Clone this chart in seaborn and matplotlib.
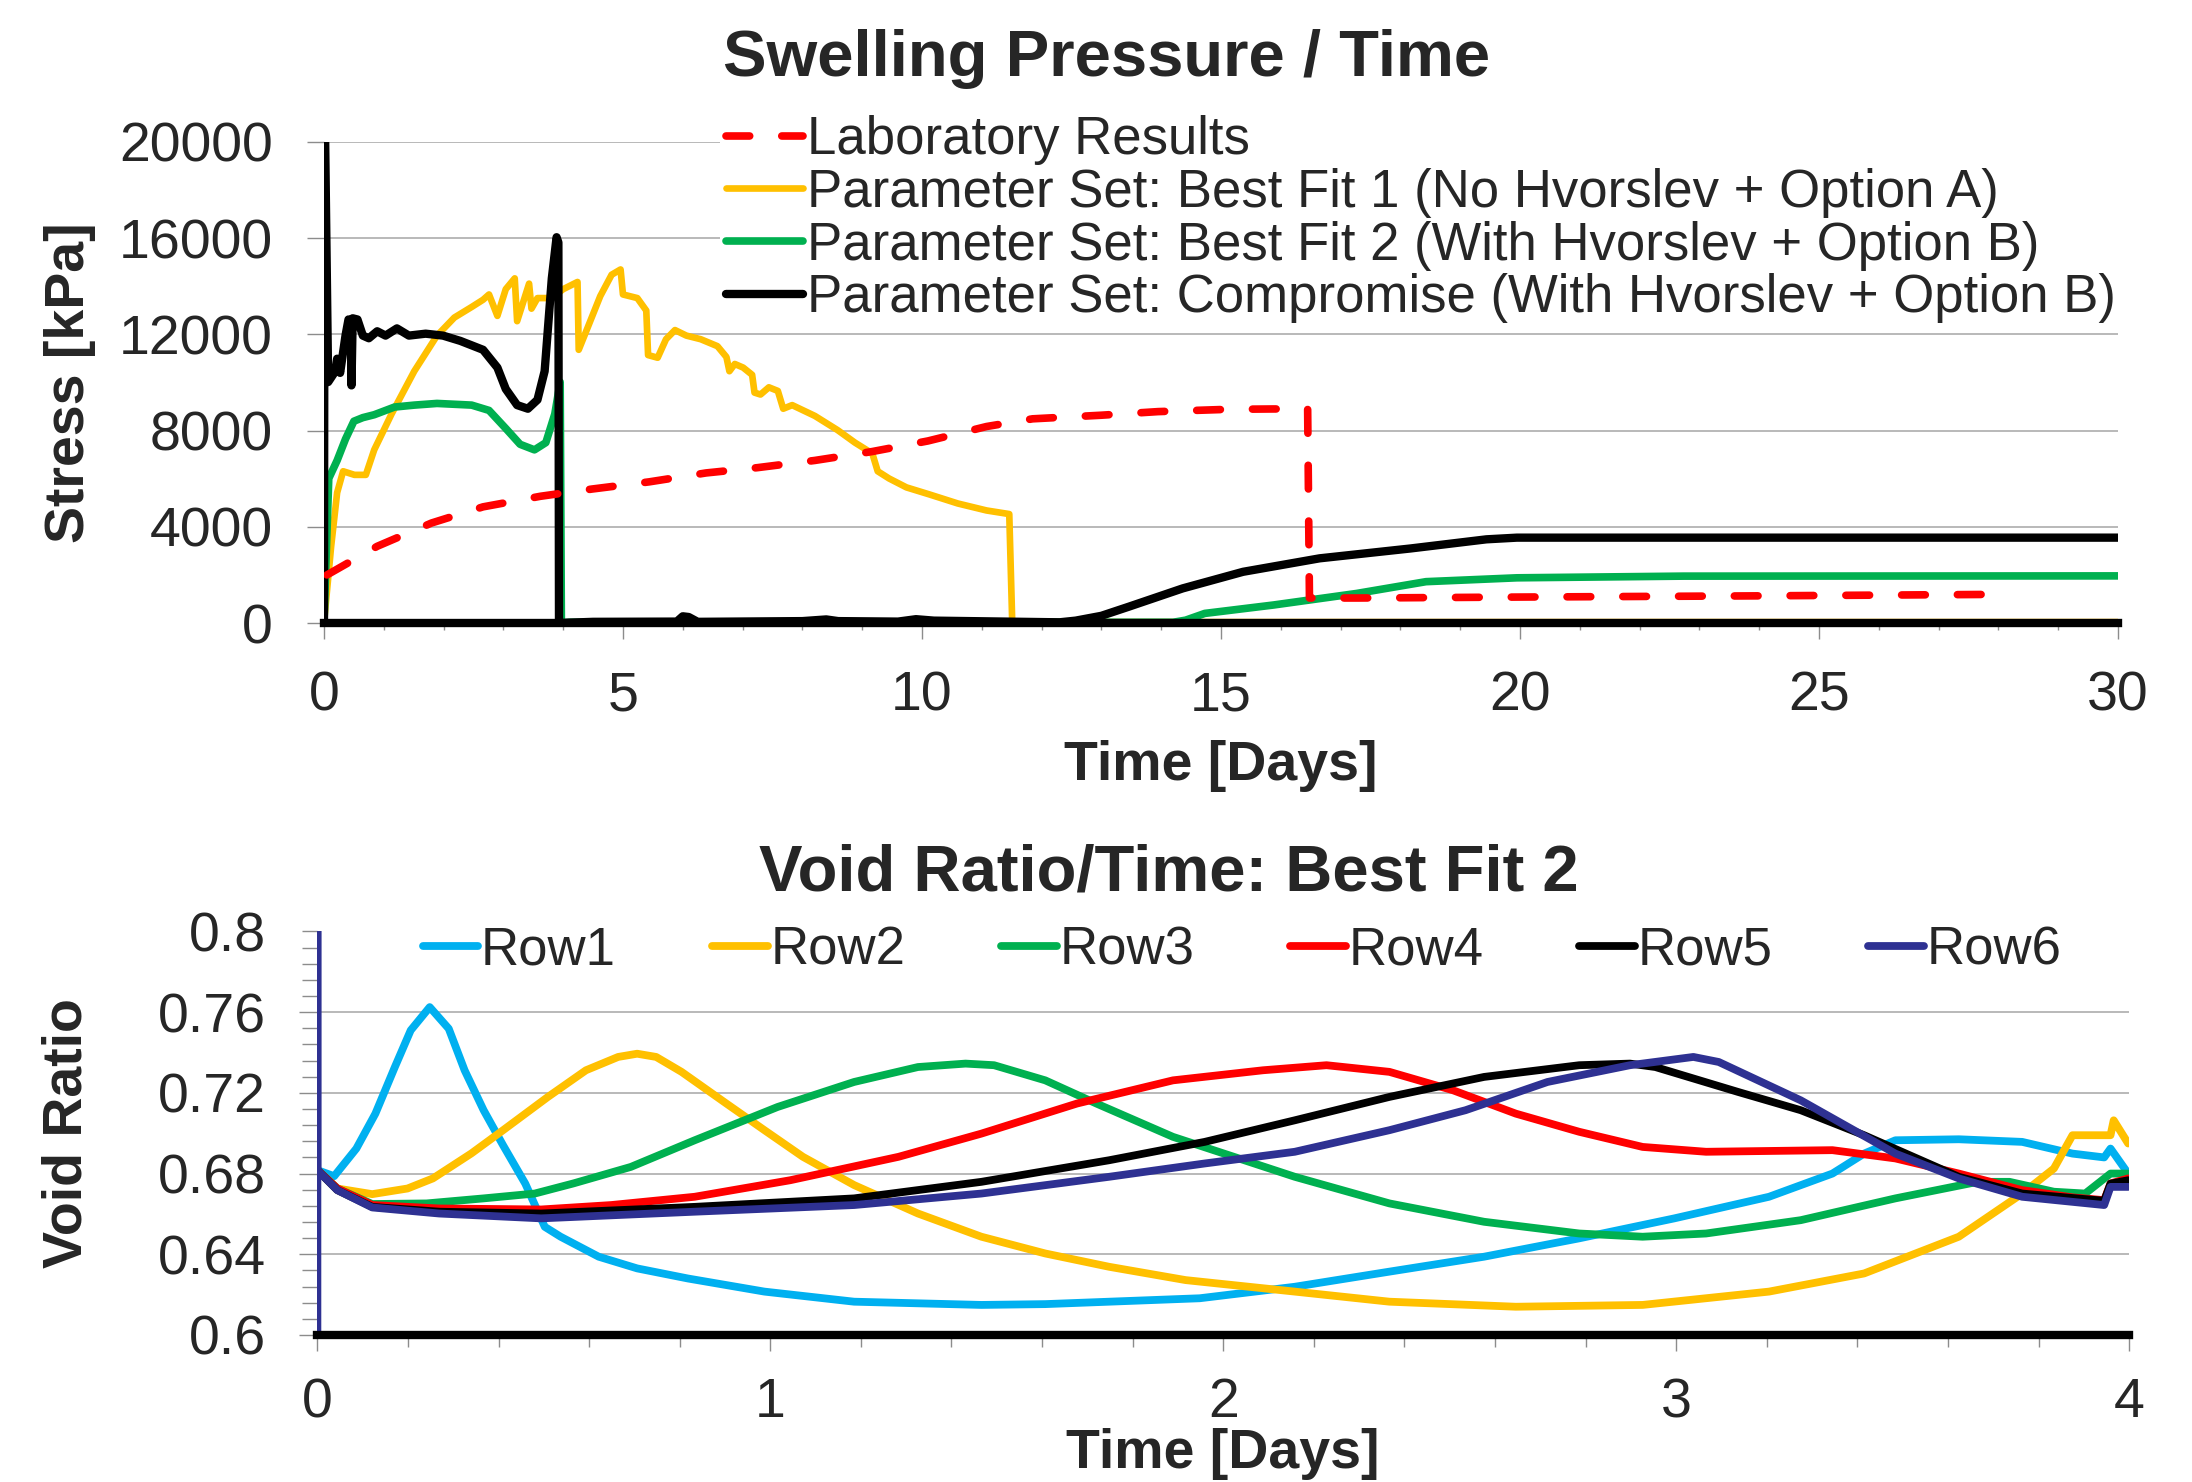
import numpy as np
import matplotlib
matplotlib.use('Agg')
from matplotlib import pyplot as plt
from matplotlib.ticker import MultipleLocator, FixedLocator, FuncFormatter
import seaborn as sns

# ---------------- swelling pressure (time in days, stress in kPa)
lab_t = [0.05, 0.89, 1.8, 2.66, 3.62, 4.48, 5.44, 6.39, 7.25, 8.21, 9.17, 10.1, 11.08,
         11.85, 13.0, 13.95, 15.12, 15.88, 16.45, 16.48, 17.3, 20.0, 24.0, 27.9]
lab_p = [2000, 3190, 4160, 4830, 5270, 5570, 5870, 6240, 6460, 6760, 7130, 7570, 8170,
         8490, 8640, 8790, 8885, 8900, 8900, 1040, 1040, 1080, 1130, 1190]

bf1_t = [0, 0.12, 0.22, 0.32, 0.51, 0.70, 0.84, 1.13, 1.51, 1.89, 2.18, 2.47, 2.66, 2.76,
         2.90, 3.04, 3.19, 3.23, 3.43, 3.47, 3.57, 3.81, 4.0, 4.24, 4.26, 4.38, 4.62, 4.81,
         4.96, 5.0, 5.24, 5.39, 5.42, 5.58, 5.72, 5.87, 6.06, 6.30, 6.58, 6.73, 6.78, 6.87,
         7.01, 7.16, 7.2, 7.3, 7.44, 7.59, 7.68, 7.83, 8.21, 8.59, 8.88, 9.17, 9.26, 9.45,
         9.74, 10.12, 10.6, 11.08, 11.46, 11.51, 11.6, 30]
bf1_p = [0, 3190, 5420, 6310, 6160, 6160, 7200, 8690, 10470, 11950, 12700, 13140, 13440, 13660,
         12770, 13880, 14330, 12550, 14110, 13070, 13510, 13510, 13880, 14180, 11360, 12100, 13590, 14480,
         14700, 13660, 13510, 12990, 11140, 11030, 11800, 12180, 11950, 11800, 11510, 11060, 10470, 10770,
         10620, 10320, 9580, 9500, 9800, 9650, 8910, 9060, 8610, 8020, 7500, 7050, 6310, 6010,
         5640, 5350, 4970, 4680, 4530, 0, 40, 40]

bf2_t = [0, 0.08, 0.22, 0.36, 0.50, 0.65, 0.84, 1.18, 1.51, 1.89, 2.47, 2.76, 3.04, 3.28,
         3.52, 3.71, 3.86, 3.95, 3.97, 4.1, 14.2, 14.41, 14.73, 15.88, 17.27, 18.43, 19.95,
         22.74, 30]
bf2_p = [0, 6010, 6760, 7650, 8390, 8540, 8660, 8980, 9060, 9130, 9060, 8840, 8090, 7430,
         7200, 7500, 8690, 10020, 0, 30, 30, 120, 400, 750, 1230, 1720, 1880,
         1950, 1960]

comp_t = [0, 0.01, 0.07, 0.19, 0.22, 0.27, 0.36, 0.41, 0.45, 0.46, 0.48, 0.56, 0.65, 0.75,
          0.89, 1.03, 1.22, 1.42, 1.70, 1.99, 2.28, 2.66, 2.90, 3.04, 3.23, 3.41, 3.57, 3.69,
          3.81, 3.89, 3.92, 3.93, 4.5, 5.9, 6.0, 6.1, 6.25, 8.0, 8.4, 8.6, 9.6, 9.9, 10.2,
          12.3, 12.57, 13.0, 13.46, 14.36, 15.37, 16.65, 18.17, 19.44, 19.95, 22, 25, 30]
comp_p = [0, 22000, 10020, 10470, 10990, 10400, 11950, 12620, 12600, 9880, 12670, 12620, 11950, 11840,
          12130, 11950, 12250, 11950, 12030, 11950, 11730, 11360, 10620, 9730, 9060, 8910, 9280, 10470,
          14330, 16040, 15820, 0, 50, 60, 280, 250, 50, 80, 150, 80, 60, 160, 100,
          30, 100, 300, 680, 1440, 2130, 2690, 3100, 3480, 3550, 3550, 3550, 3550]

top_labels = ['Laboratory Results',
              'Parameter Set: Best Fit 1 (No Hvorslev + Option A)',
              'Parameter Set: Best Fit 2 (With Hvorslev + Option B)',
              'Parameter Set: Compromise (With Hvorslev + Option B)']

# ---------------- void ratio per row (time in days)
row1_t = [0, 0.037, 0.086, 0.128, 0.171, 0.206, 0.248, 0.29, 0.325, 0.367, 0.41, 0.459, 0.502,
          0.537, 0.621, 0.706, 0.818, 0.987, 1.185, 1.466, 1.607, 1.948, 2.158, 2.367, 2.576,
          2.786, 2.996, 3.205, 3.345, 3.415, 3.484, 3.624, 3.764, 3.875, 3.945, 3.959, 3.998]
row1_v = [0.6817, 0.6787, 0.6924, 0.7097, 0.7328, 0.751, 0.7625, 0.7518, 0.7312, 0.7114, 0.694, 0.675, 0.6536,
          0.6487, 0.6388, 0.633, 0.628, 0.6215, 0.6165, 0.6149, 0.6153, 0.6182, 0.6239, 0.6314, 0.6388,
          0.6479, 0.6578, 0.6685, 0.680, 0.6899, 0.6965, 0.697, 0.6957, 0.6899, 0.688, 0.6924, 0.680]

row2_t = [0, 0.044, 0.121, 0.199, 0.255, 0.34, 0.41, 0.509, 0.593, 0.664, 0.706, 0.748, 0.804,
          0.903, 0.987, 1.072, 1.185, 1.326, 1.466, 1.607, 1.748, 1.917, 2.158, 2.367, 2.646,
          2.926, 3.205, 3.415, 3.624, 3.764, 3.834, 3.875, 3.959, 3.966, 3.998]
row2_v = [0.6817, 0.6726, 0.6698, 0.6726, 0.6776, 0.690, 0.7015, 0.718, 0.7312, 0.7378, 0.7394, 0.7378, 0.7304,
          0.7147, 0.7015, 0.6883, 0.6743, 0.6602, 0.6487, 0.6404, 0.6338, 0.6272, 0.6215, 0.6165, 0.614,
          0.6149, 0.6215, 0.6305, 0.6487, 0.6701, 0.6825, 0.699, 0.699, 0.7064, 0.6949]

row3_t = [0, 0.044, 0.121, 0.241, 0.367, 0.48, 0.565, 0.692, 0.833, 1.016, 1.185, 1.326, 1.431,
          1.494, 1.607, 1.720, 1.889, 2.158, 2.367, 2.576, 2.786, 2.926, 3.066, 3.275, 3.484,
          3.666, 3.736, 3.834, 3.903, 3.959, 3.998]
row3_v = [0.6817, 0.6726, 0.6649, 0.6652, 0.6677, 0.6701, 0.6751, 0.6833, 0.6965, 0.713, 0.7254, 0.7328, 0.7345,
          0.7337, 0.7262, 0.7147, 0.6982, 0.6784, 0.6652, 0.6561, 0.6503, 0.6487, 0.6503, 0.6569, 0.6677,
          0.6759, 0.6759, 0.671, 0.6701, 0.680, 0.680]

row4_t = [0, 0.044, 0.121, 0.269, 0.494, 0.649, 0.833, 1.044, 1.283, 1.466, 1.677, 1.889, 2.088,
          2.228, 2.367, 2.507, 2.646, 2.786, 2.926, 3.066, 3.345, 3.484, 3.624, 3.764, 3.875,
          3.945, 3.959, 3.998]
row4_v = [0.6817, 0.6726, 0.6644, 0.6627, 0.6622, 0.6644, 0.6685, 0.6767, 0.6883, 0.6998, 0.7147, 0.7262, 0.7312,
          0.7337, 0.7304, 0.7213, 0.7097, 0.7007, 0.6932, 0.6908, 0.6916, 0.6875, 0.680, 0.6718, 0.6682,
          0.6668, 0.6751, 0.6776]

row5_t = [0, 0.044, 0.121, 0.269, 0.494, 0.833, 1.185, 1.466, 1.748, 1.959, 2.158, 2.367, 2.576,
          2.786, 2.898, 2.954, 3.136, 3.275, 3.415, 3.624, 3.764, 3.945, 3.959, 3.998]
row5_v = [0.6817, 0.6718, 0.6635, 0.6611, 0.6602, 0.6635, 0.6677, 0.6759, 0.6866, 0.6957, 0.7064, 0.718, 0.7279,
          0.7337, 0.7345, 0.7328, 0.7205, 0.7114, 0.699, 0.6784, 0.6701, 0.6665, 0.675, 0.6767]

row6_t = [0, 0, 0, 0.044, 0.121, 0.269, 0.494, 0.833, 1.185, 1.466, 1.748, 1.959, 2.158,
          2.367, 2.535, 2.716, 2.898, 3.038, 3.094, 3.275, 3.484, 3.624, 3.764, 3.945, 3.959, 3.998]
row6_v = [0.0, 1.0, 0.6817, 0.6718, 0.6632, 0.6602, 0.6578, 0.6611, 0.6644, 0.6701, 0.6784, 0.685, 0.6908,
          0.7015, 0.7114, 0.7254, 0.7337, 0.7378, 0.7353, 0.7163, 0.6899, 0.6776, 0.6685, 0.6644, 0.6734, 0.6734]

row_names = ['Row1', 'Row2', 'Row3', 'Row4', 'Row5', 'Row6']
row_colors = ['#00B0F0', '#FFC000', '#00B050', '#FF0000', '#000000', '#2E3192']
void_ticks = [0.6, 0.64, 0.68, 0.72, 0.76]   # gridded ticks; 0.8 is labelled without a grid line

sns.set_style('white')
plt.rcParams['font.family'] = ['Liberation Sans', 'DejaVu Sans']

fig = plt.figure(figsize=(21.92, 14.82), dpi=100)
ax1 = fig.add_axes([0.1478, 0.5796, 0.8184, 0.3246])
ax2 = fig.add_axes([0.1448, 0.0992, 0.8265, 0.2723])

# ---------------- top panel (lab curve drawn last so it sits on top)
sns.lineplot(x=bf1_t, y=bf1_p, ax=ax1, estimator=None, sort=False, color='#FFC000',
             linewidth=4.8, label=top_labels[1], legend=False)
sns.lineplot(x=bf2_t, y=bf2_p, ax=ax1, estimator=None, sort=False, color='#00B050',
             linewidth=5.5, label=top_labels[2], legend=False)
sns.lineplot(x=comp_t, y=comp_p, ax=ax1, estimator=None, sort=False, color='#000000',
             linewidth=6.0, label=top_labels[3], legend=False)
sns.lineplot(x=lab_t, y=lab_p, ax=ax1, estimator=None, sort=False, color='#FF0000',
             linewidth=5.5, linestyle=(0, (3.1, 4.2)), dash_capstyle='round',
             label=top_labels[0], legend=False)

ax1.set_xlim(0, 30)
ax1.set_ylim(0, 20000)
ax1.xaxis.set_major_locator(MultipleLocator(5))
ax1.xaxis.set_minor_locator(MultipleLocator(1))
ax1.yaxis.set_major_locator(MultipleLocator(4000))
ax1.grid(axis='y', color='#A6A6A6', lw=1.1)
ax1.grid(axis='x', visible=False)
for s in ['left', 'right', 'top']:
    ax1.spines[s].set_visible(False)
ax1.spines['bottom'].set_linewidth(6)
ax1.spines['bottom'].set_color('black')
ax1.tick_params(axis='x', which='major', length=11.5, width=1, color='#8C8C8C',
                direction='out', bottom=True, labelsize=40, pad=23)
ax1.tick_params(axis='x', which='minor', length=5, width=1, color='#8C8C8C',
                direction='out', bottom=True)
ax1.tick_params(axis='y', which='major', length=12, width=1, color='#8C8C8C',
                direction='out', left=True, labelsize=40, pad=25)
ax1.set_xlabel('Time [Days]', fontsize=40, fontweight='bold', va='center')
ax1.xaxis.set_label_coords(0.5, -0.297)
ax1.set_ylabel('Stress [kPa]', fontsize=40, fontweight='bold', va='center')
ax1.yaxis.set_label_coords(-0.1416, 0.5)

h, l = ax1.get_legend_handles_labels()
order = [l.index(t) for t in top_labels]
ax1.legend([h[i] for i in order], [l[i] for i in order],
           loc='upper left', bbox_to_anchor=(0.3166, 0.9436),
           bbox_transform=fig.transFigure, fontsize=38, frameon=True,
           fancybox=False, edgecolor='none', facecolor='white', framealpha=1,
           borderpad=0.1, labelspacing=0.05, handlelength=1.46, handletextpad=0.08)

fig.text(0.5046, 0.9602, 'Swelling Pressure / Time', fontsize=47, fontweight='bold',
         ha='center', va='center')

# ---------------- bottom panel
row_t = [row1_t, row2_t, row3_t, row4_t, row5_t, row6_t]
row_v = [row1_v, row2_v, row3_v, row4_v, row5_v, row6_v]
for t, v, name, c in zip(row_t, row_v, row_names, row_colors):
    sns.lineplot(x=t, y=v, ax=ax2, estimator=None, sort=False, color=c, linewidth=5.6,
                 label=name, legend=False)

ax2.set_xlim(0, 4)
ax2.set_ylim(0.6, 0.8)
ax2.xaxis.set_major_locator(MultipleLocator(1))
ax2.xaxis.set_minor_locator(MultipleLocator(0.2))
ax2.yaxis.set_major_locator(FixedLocator(void_ticks))
ax2.yaxis.set_major_formatter(FuncFormatter(lambda v, p: f'{v:g}'))
ax2.yaxis.set_minor_locator(MultipleLocator(0.008))
ax2.yaxis.set_minor_formatter(FuncFormatter(lambda v, p: '0.8' if np.isclose(v, 0.8) else ''))
ax2.grid(axis='y', which='major', color='#A6A6A6', lw=1.1)
ax2.grid(axis='x', visible=False)
for s in ['left', 'right', 'top']:
    ax2.spines[s].set_visible(False)
ax2.spines['bottom'].set_linewidth(6)
ax2.spines['bottom'].set_color('black')
ax2.tick_params(axis='x', which='major', length=11.5, width=1, color='#8C8C8C',
                direction='out', bottom=True, labelsize=40, pad=19)
ax2.tick_params(axis='x', which='minor', length=8.5, width=1, color='#8C8C8C',
                direction='out', bottom=True)
ax2.tick_params(axis='y', which='major', length=13, width=1, color='#8C8C8C',
                direction='out', left=True, labelsize=40, pad=24)
ax2.tick_params(axis='y', which='minor', length=10.5, width=1, color='#8C8C8C',
                direction='out', left=True, labelsize=40, pad=26.5)
ax2.set_xlabel('Time [Days]', fontsize=40, fontweight='bold', va='center')
ax2.xaxis.set_label_coords(0.5, -0.295)
ax2.set_ylabel('Void Ratio', fontsize=40, fontweight='bold', va='center')
ax2.yaxis.set_label_coords(-0.138, 0.5)

ax2.legend(loc='upper left', bbox_to_anchor=(0.1783, 0.3972),
           bbox_transform=fig.transFigure, fontsize=38, frameon=False, ncol=6,
           borderpad=0.1, handlelength=1.06, handletextpad=0.05, columnspacing=1.81)

fig.text(0.5333, 0.4103, 'Void Ratio/Time: Best Fit 2', fontsize=47, fontweight='bold',
         ha='center', va='center')

plt.savefig('out.png', dpi=100)
